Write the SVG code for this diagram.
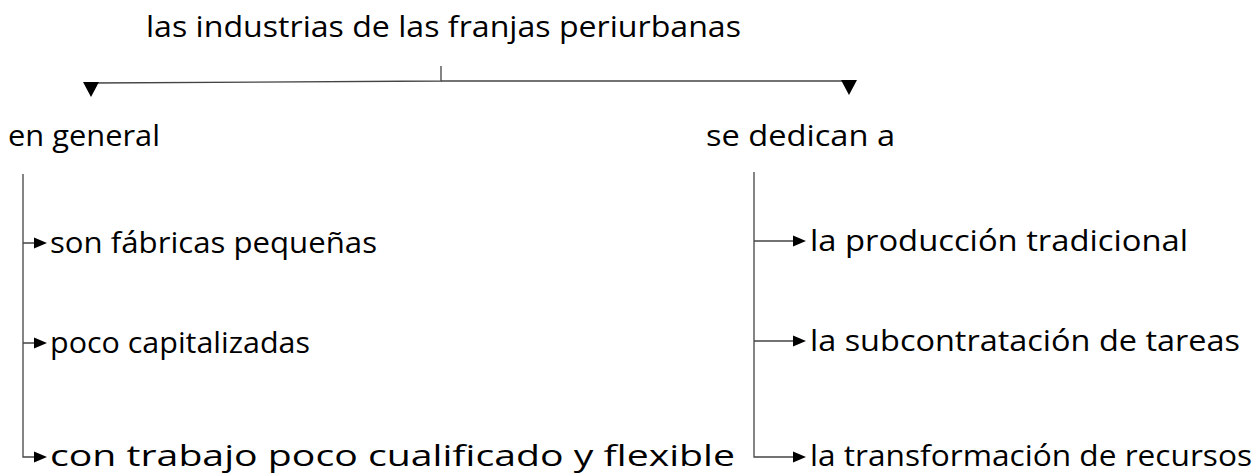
<svg xmlns="http://www.w3.org/2000/svg" width="1260" height="476" viewBox="0 0 1260 476">
<style>
text{font-family:"Open Sans","DejaVu Sans",sans-serif;font-size:29px;fill:#000}
.ln{stroke:#444;stroke-width:1.3;fill:none}
.ah{fill:#000}
</style>
<defs>
<polygon id="bigTri" points="-8,0 8,0 0,15"/>
<polygon id="smTri" points="0,-5.5 13,0 0,5.5"/>
</defs>
<rect width="1260" height="476" fill="#fff"/>
<g id="connectors">
<path class="ln" d="M441,66 V81 L92,83"/>
<path class="ln" d="M441,81 L849,81"/>
<use href="#bigTri" class="ah" x="91" y="82"/>
<use href="#bigTri" class="ah" x="849" y="80"/>
<path class="ln" d="M23,174 V457 H34 M23,243 H34 M23,343 H34"/>
<use href="#smTri" class="ah" x="34" y="243"/>
<use href="#smTri" class="ah" x="34" y="343"/>
<use href="#smTri" class="ah" x="34" y="457"/>
<path class="ln" d="M754,172 V457 H793 M754,241 H793 M754,341 H793"/>
<use href="#smTri" class="ah" x="793" y="241"/>
<use href="#smTri" class="ah" x="793" y="341"/>
<use href="#smTri" class="ah" x="793" y="457"/>
</g>
<g id="n-title"><text x="146" y="37" textLength="595" lengthAdjust="spacingAndGlyphs">las industrias de las franjas periurbanas</text></g>
<g id="n-general"><text x="8" y="146" textLength="152" lengthAdjust="spacingAndGlyphs">en general</text></g>
<g id="n-dedican"><text x="706" y="146" textLength="189" lengthAdjust="spacingAndGlyphs">se dedican a</text></g>
<g id="n-fabricas"><text x="50" y="253" textLength="327" lengthAdjust="spacingAndGlyphs">son fábricas pequeñas</text></g>
<g id="n-poco"><text x="50" y="353" textLength="260" lengthAdjust="spacingAndGlyphs">poco capitalizadas</text></g>
<g id="n-trabajo"><text x="50" y="466" textLength="685" lengthAdjust="spacingAndGlyphs">con trabajo poco cualificado y flexible</text></g>
<g id="n-produccion"><text x="810" y="251" textLength="378" lengthAdjust="spacingAndGlyphs">la producción tradicional</text></g>
<g id="n-subcontratacion"><text x="810" y="351" textLength="430" lengthAdjust="spacingAndGlyphs">la subcontratación de tareas</text></g>
<g id="n-transformacion"><text x="810" y="466" textLength="442" lengthAdjust="spacingAndGlyphs">la transformación de recursos</text></g>
</svg>
